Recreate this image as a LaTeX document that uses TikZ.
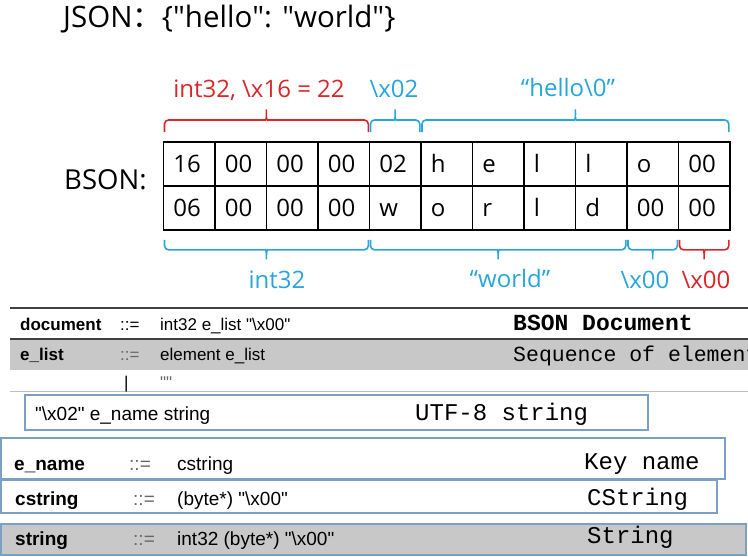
\documentclass[tikz,border=0pt]{standalone}
\usepackage{fontspec}
\setmainfont{Open Sans}
\newfontfamily\gramfont{Liberation Sans}
\newfontfamily\descfont{Liberation Mono}
\newfontfamily\cjk{Noto Sans CJK SC}
\usetikzlibrary{calc}

\definecolor{bsred}{RGB}{218,38,40}
\definecolor{bsblue}{RGB}{38,166,218}
\definecolor{boxline}{RGB}{122,160,198}
\definecolor{rowgray}{RGB}{200,200,200}
\definecolor{rulegray}{RGB}{64,64,64}

\tikzset{
  cell/.style={draw, line width=1.8pt, anchor=north west,
    minimum width=51.5pt, minimum height=44pt, text width=31.5pt,
    inner xsep=10pt, inner ysep=0pt, align=left,
    text height=17.5pt, text depth=0pt, font=\fontsize{24}{24}\selectfont},
  brace/.style={line width=1.6pt, rounded corners=4pt},
  lab/.style={anchor=base, font=\fontsize{24}{24}\selectfont},
  gname/.style={anchor=base west, inner sep=0pt, font=\gramfont\bfseries\fontsize{17}{17}\selectfont},
  gtext/.style={anchor=base west, inner sep=0pt, font=\gramfont\fontsize{17}{17}\selectfont},
  bname/.style={anchor=base west, inner sep=0pt, font=\gramfont\bfseries\fontsize{19}{19}\selectfont},
  btext/.style={anchor=base west, inner sep=0pt, font=\gramfont\fontsize{19}{19}\selectfont},
  desc/.style={anchor=base west, inner sep=0pt, font=\descfont\fontsize{24}{24}\selectfont},
  gbox/.style={draw=boxline, line width=2pt, fill=white}
}

% brace above cells #1..#2, colour #3
\newcommand{\bracetop}[3]{%
  \draw[brace, draw=#3] let \p1=(#1.north west), \p2=(#2.north east),
    \p3=($(#1.north west)!.5!(#2.north east)$) in
    (\x1+2pt,\y1+9pt) |- (\x3-5pt,\y1+21pt) to[out=0,in=-90] (\x3,\y1+34pt)
    to[out=-90,in=180] (\x3+5pt,\y1+21pt) -| (\x2-2pt,\y1+9pt);}
% brace below cells #1..#2, colour #3
\newcommand{\bracebot}[3]{%
  \draw[brace, draw=#3] let \p1=(#1.south west), \p2=(#2.south east),
    \p3=($(#1.south west)!.5!(#2.south east)$) in
    (\x1+2pt,\y1-9pt) |- (\x3-5pt,\y1-19pt) to[out=0,in=90] (\x3,\y1-31pt)
    to[out=90,in=180] (\x3+5pt,\y1-19pt) -| (\x2-2pt,\y1-9pt);}

\begin{document}
\begin{tikzpicture}[x=1pt,y=-1pt]
    \useasboundingbox (0,0) rectangle (748,557);

    % JSON source
    \node[anchor=base west, inner sep=0pt, font=\fontsize{29.5}{29.5}\selectfont] (json) at (63,27)
      {JSON{\cjk ：}\{\textquotedbl hello\textquotedbl: \textquotedbl world\textquotedbl\}};

    % BSON bytes
    \node[anchor=base west, inner sep=0pt, font=\fontsize{27.5}{27.5}\selectfont] (bson) at (64,189) {BSON:};
    \foreach \t [count=\i] in {16,00,00,00,02,h,e,l,l,o,00}
      \node[cell] (a\i) at ({162.5+51.5*(\i-1)},141) {\t};
    \foreach \t [count=\i] in {06,00,00,00,w,o,r,l,d,00,00}
      \node[cell] (b\i) at ({162.5+51.5*(\i-1)},185) {\t};

    % braces over the first row
    \bracetop{a1}{a4}{bsred}
    \bracetop{a5}{a5}{bsblue}
    \bracetop{a6}{a11}{bsblue}
    \node[lab, bsred] (labsize) at (259,97) {int32, \textbackslash x16 = 22};
    \node[lab, bsblue] (labtype) at (394,97) {\textbackslash x02};
    \node[lab, bsblue] (labkey) at (568,96) {“hello\textbackslash 0”};

    % braces under the second row
    \bracebot{b1}{b4}{bsblue}
    \bracebot{b5}{b9}{bsblue}
    \bracebot{b10}{b10}{bsblue}
    \bracebot{b11}{b11}{bsred}
    \node[lab, bsblue] (labint) at (277,288) {int32};
    \node[lab, bsblue] (labval) at (510,287) {“world”};
    \node[lab, bsblue] (labnul) at (645,288) {\textbackslash x00};
    \node[lab, bsred] (labend) at (706,288) {\textbackslash x00};

    % grammar table
    \fill[rowgray] (10,339) rectangle (748,370);
    \draw[rulegray, line width=2pt] (10,308) -- (748,308);
    \draw[rulegray, line width=2pt] (10,338.5) -- (748,338.5);
    \draw[gray!50, line width=1pt] (10,391) -- (748,391);

    \node[gname] (gdoc) at (20,330) {document};
    \node[gtext] (gdocop) at (120,330) {::=};
    \node[gtext] (gdocdef) at (160,330) {int32 e\_list "\textbackslash x00"};
    \node[desc, font=\descfont\bfseries\fontsize{23}{23}\selectfont] (gdocdesc) at (513,330) {BSON Document};

    \node[gname] (glist) at (20,360) {e\_list};
    \node[gtext, black!60] (glistop) at (120,360) {::=};
    \node[gtext] (glistdef) at (160,360) {element e\_list};
    \node[desc, font=\descfont\fontsize{21.5}{21.5}\selectfont] (glistdesc) at (513,361) {Sequence of elements};
    \node[gtext] (galt) at (124,388) {|};
    \node[gtext, black!60] (gempty) at (160,388) {""};

    % boxed rules
    \draw[gbox] (25,395) rectangle (648,430);
    \node[btext] (gelem) at (35,420) {"\textbackslash x02" e\_name string};
    \node[desc] (gelemdesc) at (415,420) {UTF-8 string};

    \draw[gbox] (1,438) rectangle (725,479);
    \node[bname] (gename) at (14,470) {e\_name};
    \node[btext, black!60] (genameop) at (129,470) {::=};
    \node[btext] (genamedef) at (177,470) {cstring};
    \node[desc] (genamedesc) at (584,469) {Key name};

    \draw[gbox] (1,480) rectangle (717,513);
    \node[bname] (gcstr) at (15,505) {cstring};
    \node[btext, black!60] (gcstrop) at (133,505) {::=};
    \node[btext] (gcstrdef) at (177,505) {(byte*) "\textbackslash x00"};
    \node[desc] (gcstrdesc) at (587,505) {CString};

    \draw[gbox, fill=rowgray] (1,524) rectangle (746,555);
    \node[bname] (gstr) at (15,545) {string};
    \node[btext, black!60] (gstrop) at (133,545) {::=};
    \node[btext] (gstrdef) at (177,545) {int32 (byte*) "\textbackslash x00"};
    \node[desc] (gstrdesc) at (587,543) {String};

\end{tikzpicture}
\end{document}
